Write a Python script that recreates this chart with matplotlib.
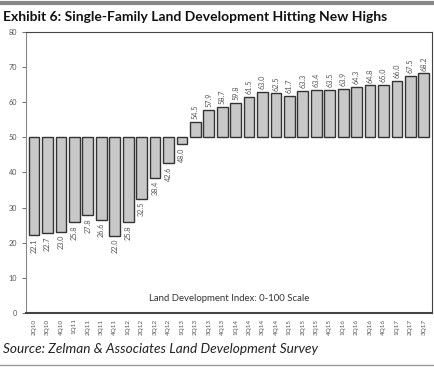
import numpy as np
import matplotlib.pyplot as plt

### quarters and land development index values
quarters = ['2Q10', '3Q10', '4Q10',
            '1Q11', '2Q11', '3Q11', '4Q11',
            '1Q12', '2Q12', '3Q12', '4Q12',
            '1Q13', '2Q13', '3Q13', '4Q13',
            '1Q14', '2Q14', '3Q14', '4Q14',
            '1Q15', '2Q15', '3Q15', '4Q15',
            '1Q16', '2Q16', '3Q16', '4Q16',
            '1Q17', '2Q17', '3Q17']
index_values = [22.1, 22.7, 23.0, 25.8, 27.8, 26.6, 22.0, 25.8, 32.5, 38.4,
                42.6, 48.0, 54.5, 57.9, 58.7, 59.8, 61.5, 63.0, 62.5, 61.7,
                63.3, 63.4, 63.5, 63.9, 64.3, 64.8, 65.0, 66.0, 67.5, 68.2]
baseline = 50

plt.rcParams['font.family'] = ['Lato', 'DejaVu Sans']

fig = plt.figure(figsize=(4.34, 3.67), dpi=100)
ax = fig.add_axes([0.060, 0.147, 0.935, 0.766])

x = np.arange(len(quarters))
vals = np.array(index_values)
ax.bar(x, vals - baseline, bottom=baseline, width=0.8,
       color='#c8c8c8', edgecolor='#333333', linewidth=1.0)

### value labels, below the bar if under 50, above otherwise
for xi, v in zip(x, vals):
    if v < baseline:
        ax.text(xi, v - 0.8, f'{v:.1f}', rotation=90, ha='center', va='top',
                fontsize=5.2, color='#555555')
    else:
        ax.text(xi, v + 0.8, f'{v:.1f}', rotation=90, ha='center', va='bottom',
                fontsize=5.2, color='#555555')

ax.set_xlim(-0.6, len(quarters) - 0.4)
ax.set_ylim(0, 80)
ax.set_yticks(range(0, 81, 10))
ax.set_xticks(x)
ax.set_xticklabels(quarters, rotation=90, fontsize=4.6, color='#555555')
ax.tick_params(axis='y', labelsize=5.2, colors='#555555', length=3, width=0.6)
ax.tick_params(axis='x', length=0, pad=4)
for s in ax.spines.values():
    s.set_color('#444444')
    s.set_linewidth(0.8)
ax.spines['left'].set_color('#888888')
ax.spines['bottom'].set_linewidth(1.5)

ax.text(0.5, 0.05, 'Land Development Index: 0-100 Scale', transform=ax.transAxes,
        ha='center', va='center', fontsize=6.9, color='#333333')

fig.text(0.007, 0.955, 'Exhibit 6: Single-Family Land Development Hitting New Highs',
         fontsize=10, fontweight='bold', color='#111111', va='center')
fig.text(0.007, 0.05, 'Source: Zelman & Associates Land Development Survey',
         fontsize=9.8, style='italic', color='#222222', va='center')

### gray rules at top and bottom
fig.add_artist(plt.Line2D([0, 1], [0.993, 0.993], color='#888888', linewidth=3))
fig.add_artist(plt.Line2D([0, 1], [0.006, 0.006], color='#999999', linewidth=1))

fig.savefig('out.png', dpi=100)
